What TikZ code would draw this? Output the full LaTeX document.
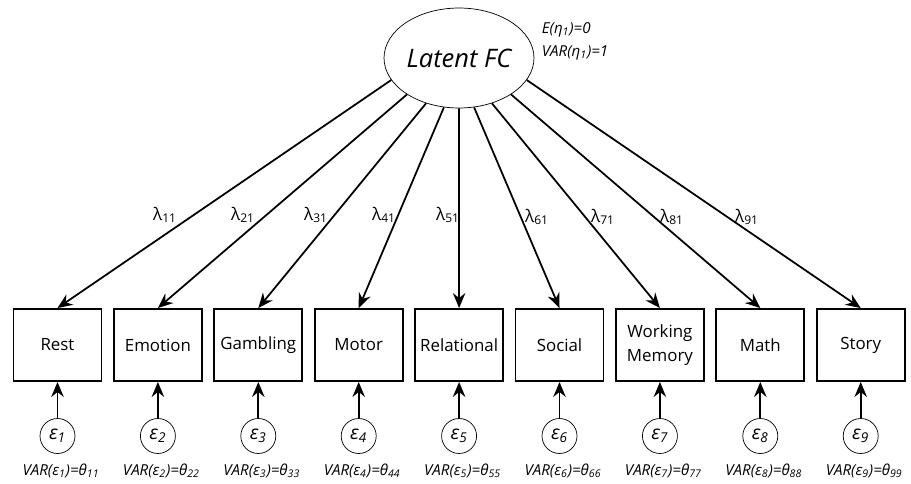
\documentclass[tikz,border=0pt]{standalone}
\usepackage{fontspec}
\setmainfont{Open Sans}
\usepackage{tikz}
\usetikzlibrary{arrows.meta,shapes.geometric}

\begin{document}
\begin{tikzpicture}[x=0.02cm, y=-0.02cm,
 -{Stealth[length=0.3cm,width=0.25cm,inset=0.1cm]}, line width=1pt,
 latent/.style={ellipse, draw, line width=0.4pt, minimum width=3cm, minimum height=2cm, inner sep=0pt, font=\fontsize{14.5}{16}\selectfont\itshape},
 obs/.style={rectangle, draw, line width=1.1pt, minimum width=1.76cm, minimum height=1.44cm, inner sep=0pt, align=center, font=\fontsize{9.6}{13.6}\selectfont},
 err/.style={circle, draw, line width=0.4pt, minimum size=0.7cm, inner sep=0pt, font=\fontsize{11}{12}\selectfont\itshape},
 lbl/.style={inner sep=0pt, font=\fontsize{9.8}{12}\selectfont},
 var/.style={inner sep=0pt, font=\fontsize{8.6}{10}\selectfont\itshape}]
\useasboundingbox (0,0) rectangle (911,483);

\node[latent] (lat) at (459,58) {Latent FC};
\node[var, anchor=west] (mean) at (541,30) {E(η\textsubscript{1})=0};
\node[var, anchor=west] (vareta) at (541,53) {VAR(η\textsubscript{1})=1};

% indicators
\node[obs] (1) at (57.5,345) {Rest};
\node[obs] (2) at (157.9,345) {Emotion};
\node[obs] (3) at (258.3,345) {Gambling};
\node[obs] (4) at (358.7,345) {Motor};
\node[obs] (5) at (459.1,345) {Relational};
\node[obs] (6) at (559.5,345) {Social};
\node[obs] (7) at (659.9,345) {Working\\Memory};
\node[obs] (8) at (760.3,345) {Math};
\node[obs] (9) at (860.7,345) {Story};

% residuals
\node[err] (e1) at (57.5,436) {ε\textsubscript{1}};
\node[err] (e2) at (157.9,436) {ε\textsubscript{2}};
\node[err] (e3) at (258.3,436) {ε\textsubscript{3}};
\node[err] (e4) at (358.7,436) {ε\textsubscript{4}};
\node[err] (e5) at (459.1,436) {ε\textsubscript{5}};
\node[err] (e6) at (559.5,436) {ε\textsubscript{6}};
\node[err] (e7) at (659.9,436) {ε\textsubscript{7}};
\node[err] (e8) at (760.3,436) {ε\textsubscript{8}};
\node[err] (e9) at (860.7,436) {ε\textsubscript{9}};

\node[var] (v1) at (61,471) {VAR(ε\textsubscript{1})=θ\textsubscript{11}};
\node[var] (v2) at (161.4,471) {VAR(ε\textsubscript{2})=θ\textsubscript{22}};
\node[var] (v3) at (261.8,471) {VAR(ε\textsubscript{3})=θ\textsubscript{33}};
\node[var] (v4) at (362.2,471) {VAR(ε\textsubscript{4})=θ\textsubscript{44}};
\node[var] (v5) at (462.6,471) {VAR(ε\textsubscript{5})=θ\textsubscript{55}};
\node[var] (v6) at (563,471) {VAR(ε\textsubscript{6})=θ\textsubscript{66}};
\node[var] (v7) at (663.4,471) {VAR(ε\textsubscript{7})=θ\textsubscript{77}};
\node[var] (v8) at (763.8,471) {VAR(ε\textsubscript{8})=θ\textsubscript{88}};
\node[var] (v9) at (864.2,471) {VAR(ε\textsubscript{9})=θ\textsubscript{99}};

% loadings
\node[lbl] (l1) at (165,215) {λ\textsubscript{11}};
\node[lbl] (l2) at (243,215) {λ\textsubscript{21}};
\node[lbl] (l3) at (316,215) {λ\textsubscript{31}};
\node[lbl] (l4) at (384,215) {λ\textsubscript{41}};
\node[lbl] (l5) at (448,215) {λ\textsubscript{51}};
\node[lbl] (l6) at (537,217) {λ\textsubscript{61}};
\node[lbl] (l7) at (603,217) {λ\textsubscript{71}};
\node[lbl] (l8) at (672,217) {λ\textsubscript{81}};
\node[lbl] (l9) at (747,217) {λ\textsubscript{91}};

\path
(lat.198) edge (1.north)
(lat.215) edge (2.north)
(lat.234) edge (3.north)
(lat.253) edge (4.north)
(lat.270) edge (5.north)
(lat.287) edge (6.north)
(lat.306) edge (7.north)
(lat.325) edge (8.north)
(lat.342) edge (9.north);

\path
(e1) edge (1) (e2) edge (2) (e3) edge (3)
(e4) edge (4) (e5) edge (5) (e6) edge (6)
(e7) edge (7) (e8) edge (8) (e9) edge (9);
\end{tikzpicture}
\end{document}
